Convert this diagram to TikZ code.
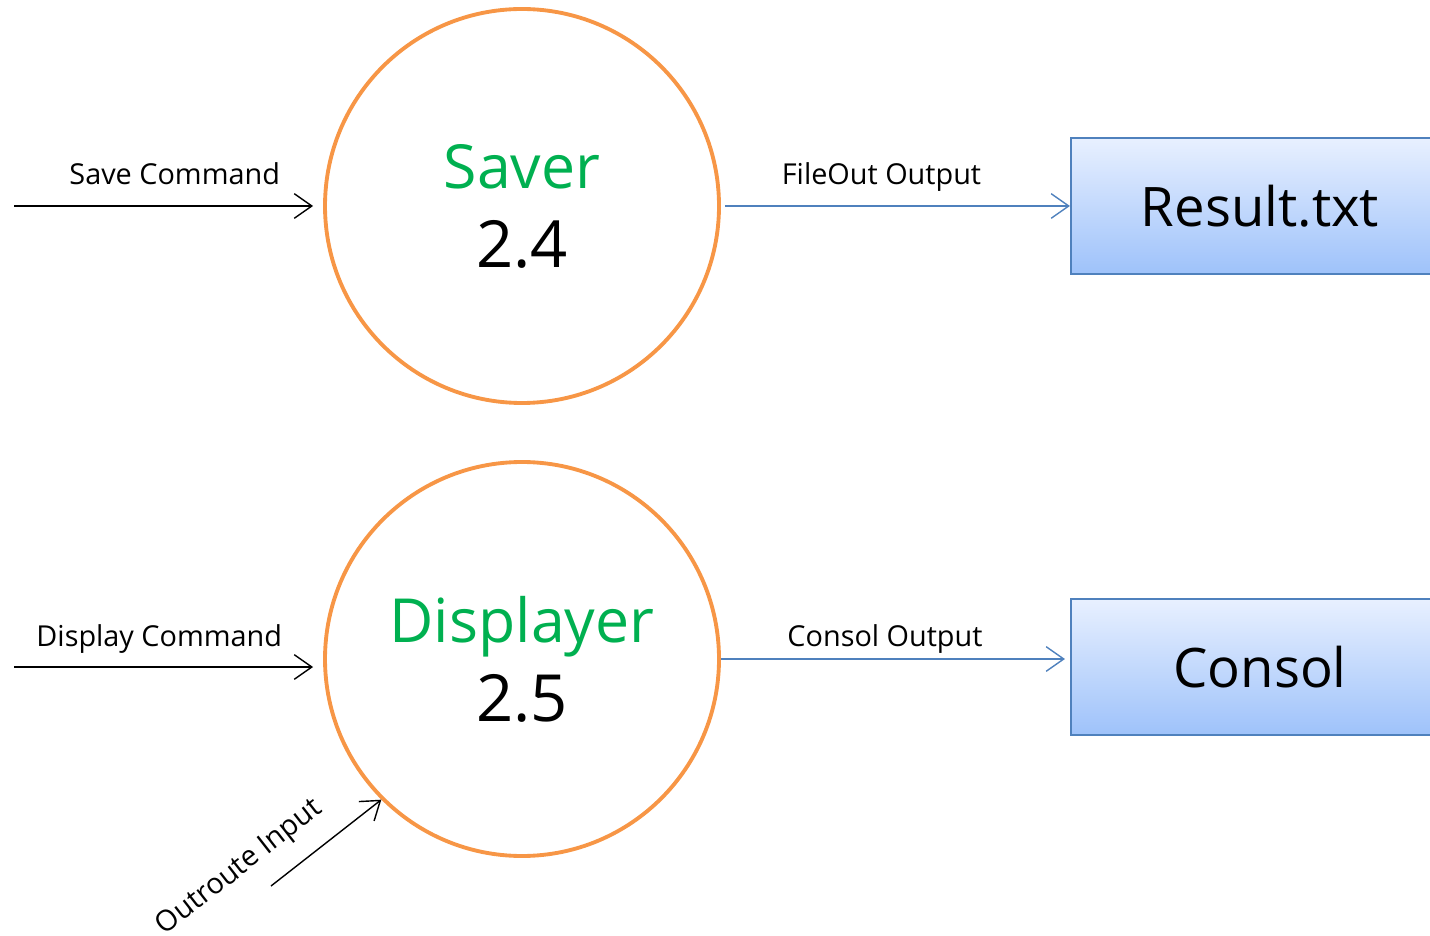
\documentclass[tikz,border=0pt]{standalone}
\usepackage{fontspec}
\setmainfont{Open Sans}
\usepackage{tikz}
\usetikzlibrary{positioning,arrows.meta,calc}
\definecolor{procorange}{RGB}{247,150,70}
\definecolor{procgreen}{RGB}{0,176,80}
\definecolor{storeblue}{RGB}{79,129,189}
\definecolor{storetop}{RGB}{232,240,255}
\definecolor{storebot}{RGB}{158,194,250}

\begin{document}
\begin{tikzpicture}[
  >={Straight Barb[length=5pt,width=7pt]},
  every node/.style={font=\fontsize{8.2}{10}\selectfont},
  process/.style={circle,draw=procorange,line width=1.1pt,minimum size=3.94cm,
    align=center,font=\fontsize{18.5}{21}\selectfont},
  store/.style={rectangle,draw=storeblue,line width=0.6pt,top color=storetop,
    bottom color=storebot,minimum width=3.78cm,minimum height=1.36cm,
    font=\fontsize{15.5}{18}\selectfont},
  flow/.style={->,thin},
  outflow/.style={->,thin,draw=storeblue},
  lbl/.style={inner sep=0pt,anchor=base,yshift=0.21cm}
]
\useasboundingbox (0,0) rectangle (14.3,-9.36);

% 処理
\node[process] (saver) at (5.22,-2.06)
  {{\fontsize{17.3}{20}\selectfont\textcolor{procgreen}{Saver}}\\[1.5pt]2.4};
\node[process] (displayer) at (5.22,-6.59)
  {{\fontsize{17.3}{20}\selectfont\textcolor{procgreen}{Displayer}}\\[1.5pt]2.5};

% 出力先
\node[store] (result) at (12.60,-2.06) {Result.txt};
\node[store] (consol) at (12.60,-6.67) {Consol};

% 入力
\coordinate (savein) at (0.14,-2.06);
\coordinate (dispin) at (0.14,-6.67);
\coordinate (outin) at (2.71,-8.86);

\draw[flow,shorten >=0.1cm] (savein) -- (saver.west)
  node[lbl,pos=0.52] (savelbl) {Save Command};
\draw[flow,shorten >=0.1cm] (dispin) -- (dispin -| displayer.west)
  node[lbl,pos=0.47] (displbl) {Display Command};
\draw[flow] (outin) -- (displayer.south west);
\node[inner sep=0pt,rotate=38] (outlbl) at (2.40,-8.68) {Outroute Input};

% 出力
\draw[outflow,shorten <=0.04cm] (saver.east) -- (result.west)
  node[lbl,pos=0.46] (filelbl) {FileOut Output};
\draw[outflow,shorten >=0.05cm] (displayer.east) -- (displayer.east -| consol.west)
  node[lbl,pos=0.47,yshift=-0.08cm] (conslbl) {Consol Output};
\end{tikzpicture}
\end{document}
